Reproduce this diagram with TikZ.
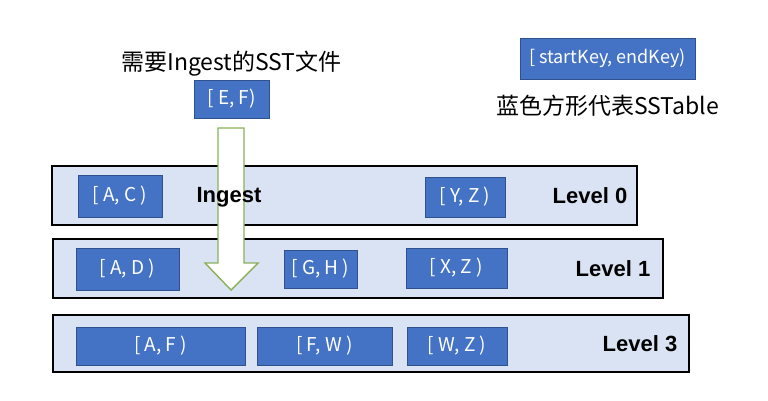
\documentclass[tikz,border=0pt]{standalone}
\usepackage{fontspec}
\setmainfont{Noto Sans CJK SC}
\newfontfamily\cjkfont{Noto Sans CJK SC}
\newfontfamily\boldsans{Liberation Sans}
\usetikzlibrary{positioning}
\definecolor{sstblue}{HTML}{4472C4}
\definecolor{sstedge}{HTML}{2F528F}
\definecolor{levelfill}{HTML}{DAE3F3}
\definecolor{ingestgreen}{HTML}{8AB05A}
\tikzset{
  levelbox/.style={rectangle, draw=black, line width=1.6pt, fill=levelfill, inner sep=0pt},
  sst/.style={rectangle, draw=sstedge, line width=0.8pt, fill=sstblue, text=white, inner sep=0pt, font=\fontsize{19}{22}\selectfont},
  levelname/.style={anchor=east, font=\boldsans\bfseries\fontsize{22}{26}\selectfont},
  title/.style={font=\cjkfont\fontsize{23}{27}\selectfont},
  ingestarrow/.style={draw=ingestgreen, line width=1.4pt, fill=white, line join=miter}
}

\begin{document}
\begin{tikzpicture}[x=1pt, y=-1pt]
    \useasboundingbox (0,0) rectangle (768,400);

    % levels
    \node (lvl0) [levelbox, minimum width=585pt, minimum height=59pt] at (344.5,195.5) {};
    \node (lvl1) [levelbox, minimum width=610pt, minimum height=59pt] at (358,268.5) {};
    \node (lvl3) [levelbox, minimum width=636pt, minimum height=57pt] at (371,343.5) {};

    \node (name0) [levelname] at ([xshift=-7pt]lvl0.east) {Level 0};
    \node (name1) [levelname] at ([xshift=-10pt]lvl1.east) {Level 1};
    \node (name3) [levelname] at ([xshift=-9pt]lvl3.east) {Level 3};

    % SSTables
    \node (sstAC) [sst, minimum width=84pt, minimum height=42pt] at (120,196) {[ A, C )};
    \node (sstYZ) [sst, minimum width=80pt, minimum height=40pt] at (465,197) {[ Y, Z )};
    \node (sstAD) [sst, minimum width=103pt, minimum height=42pt] at (127.5,269) {[ A, D )};
    \node (sstGH) [sst, minimum width=73pt, minimum height=38pt] at (320.5,269) {[ G, H )};
    \node (sstXZ) [sst, minimum width=101pt, minimum height=40pt] at (456.5,268) {[ X, Z )};
    \node (sstAF) [sst, minimum width=169pt, minimum height=38pt] at (160.5,346) {[ A, F )};
    \node (sstFW) [sst, minimum width=135pt, minimum height=38pt] at (324.5,346) {[ F, W )};
    \node (sstWZ) [sst, minimum width=100pt, minimum height=38pt] at (457,346) {[ W, Z )};

    % file to ingest
    \node (sstEF) [sst, minimum width=75pt, minimum height=38pt] at (231.5,99) {[ E, F)};
    \node (ingestfile) [title, above=0pt of sstEF] {需要Ingest的SST文件};

    % legend
    \node (legend) [sst, minimum width=175pt, minimum height=41pt, font=\fontsize{18}{21}\selectfont] at (607.5,58.5) {[ startKey, endKey)};
    \node (legendtext) [title, below=12pt of legend] {蓝色方形代表SSTable};

    % ingest arrow
    \draw [ingestarrow] (218,128) -- (244,128) -- (244,263) -- (258,263) -- (231,290)
        -- (205,263) -- (218,263) -- cycle;
    \node (ingest) [font=\boldsans\bfseries\fontsize{22}{26}\selectfont] at (229,197) {Ingest};
\end{tikzpicture}
\end{document}
